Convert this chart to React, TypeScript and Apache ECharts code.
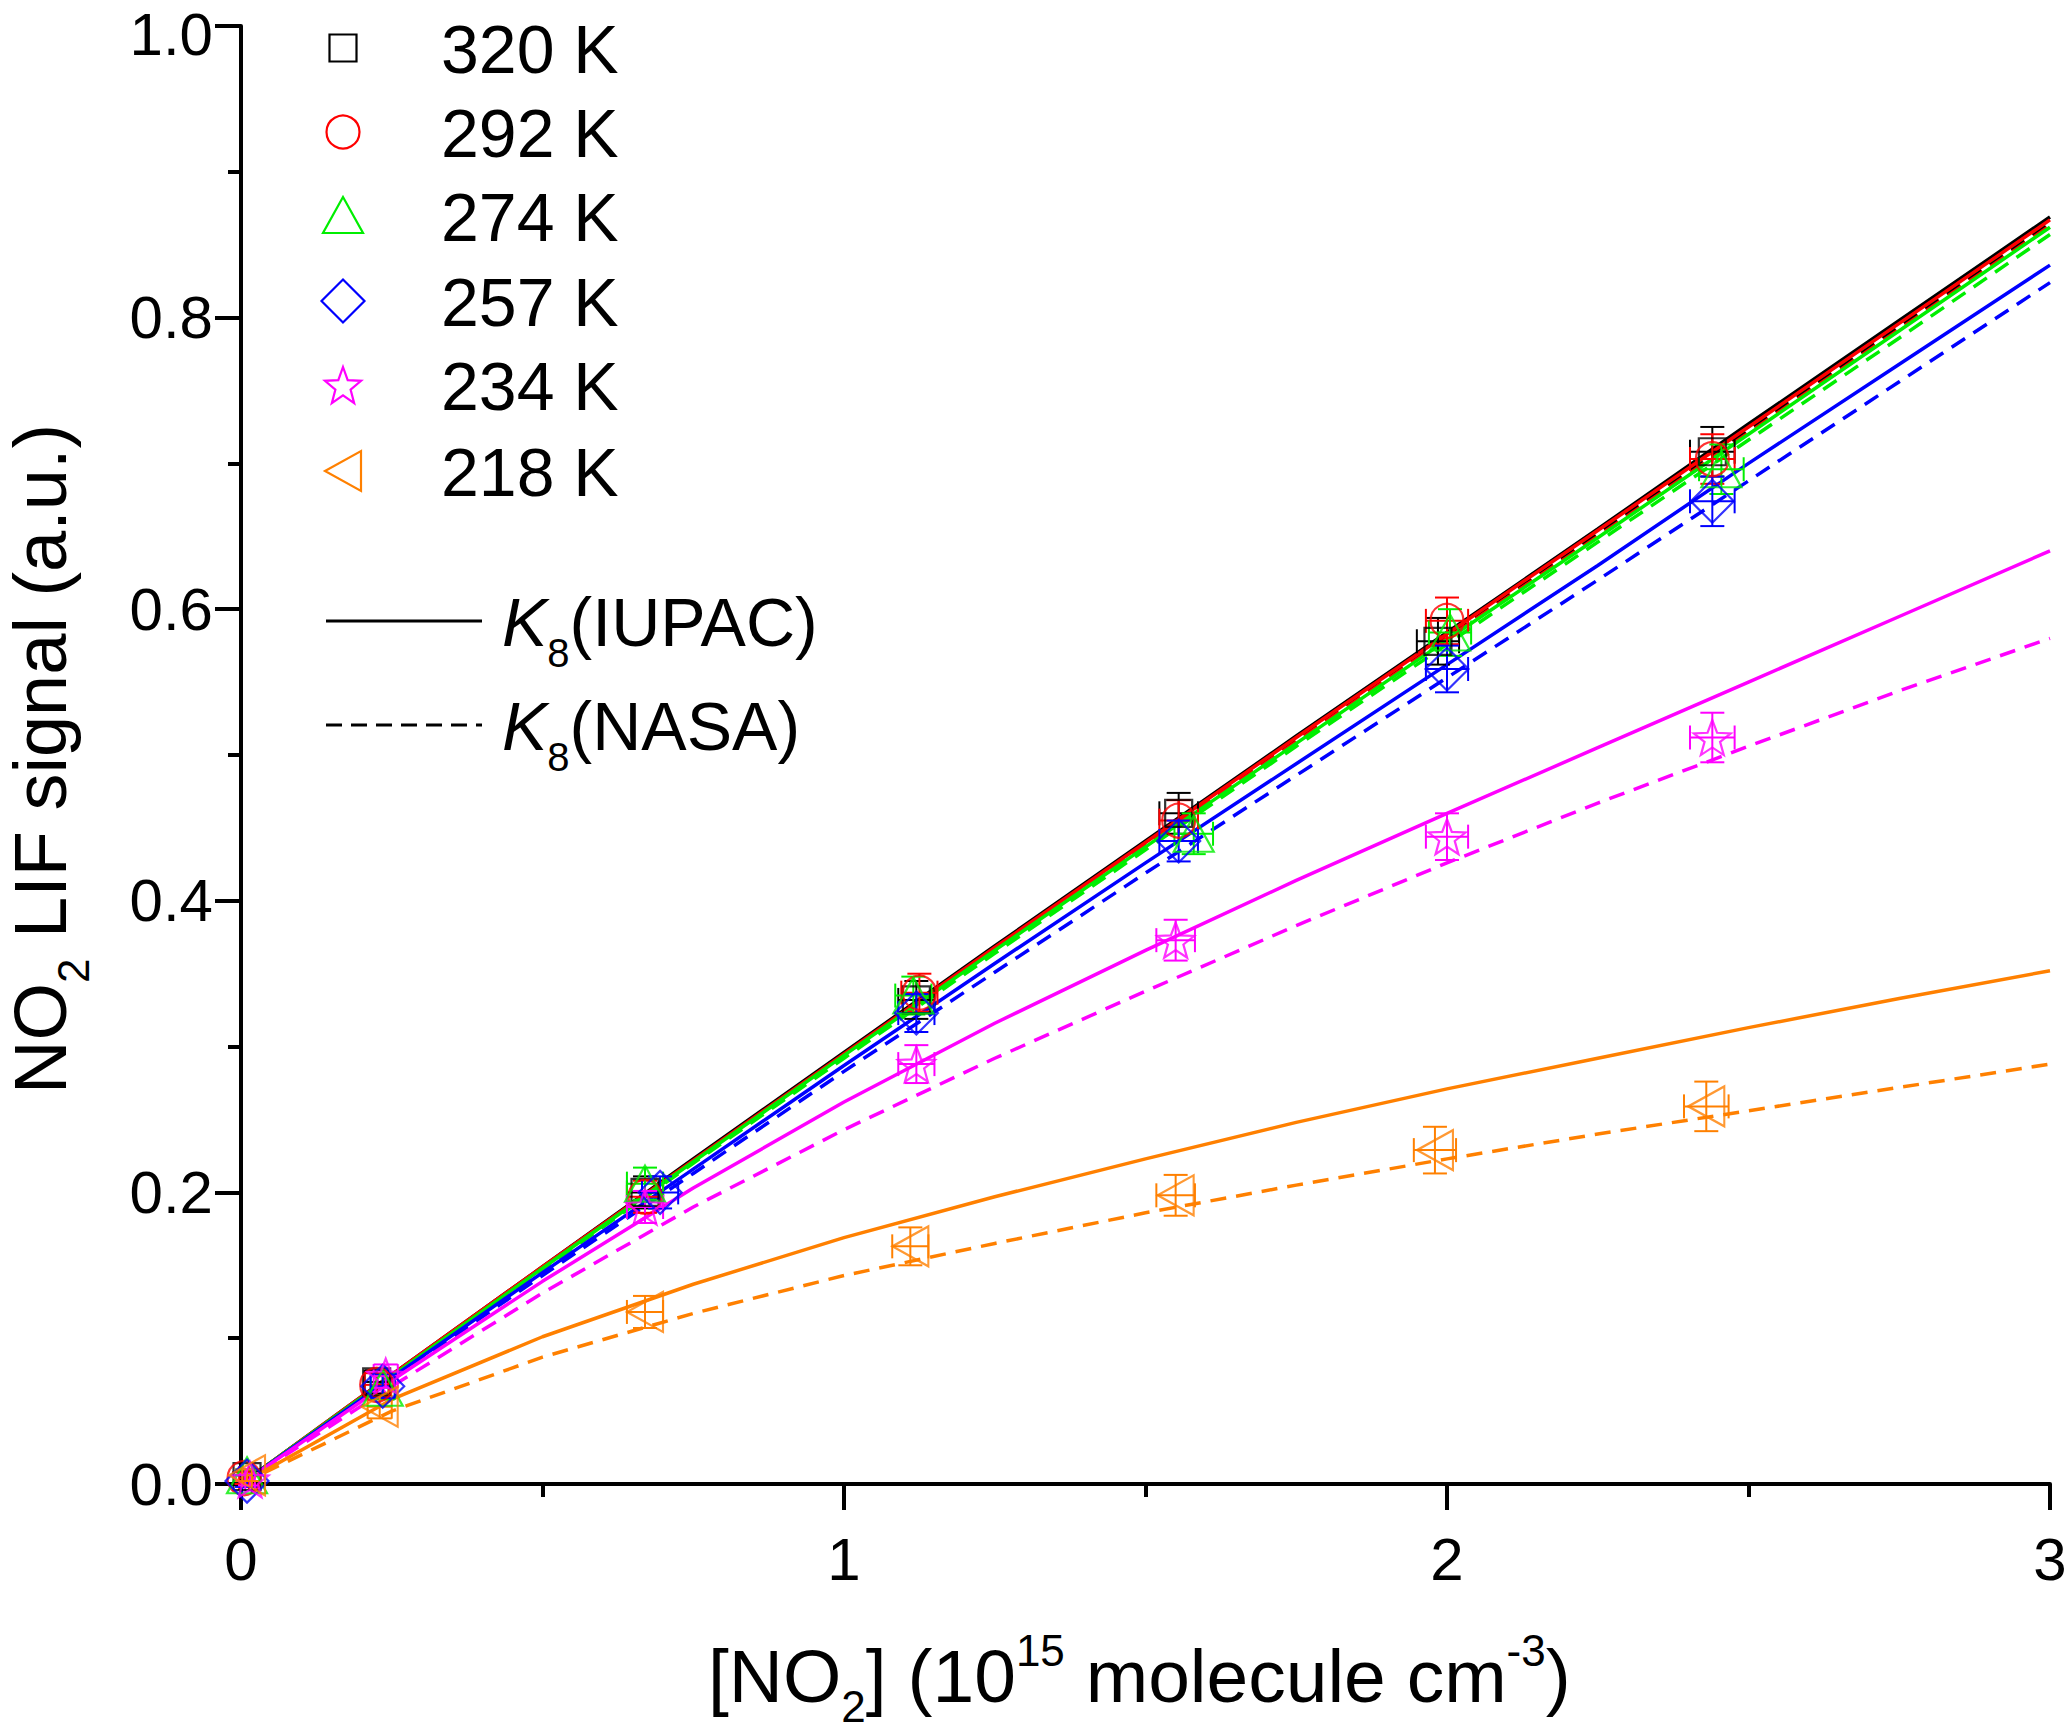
import React, { useEffect, useRef } from "react";
import * as echarts from "echarts";

const FONT = "'Liberation Sans', Arial, Helvetica, sans-serif";

// ---------- categories / legend ----------
const tempLabels = ["320 K", "292 K", "274 K", "257 K", "234 K", "218 K"];
const tempColors = ["#000000", "#ff0000", "#00ee00", "#0000ff", "#ff00ff", "#ff8000"];

// ---------- measured points ----------
const x320 = [0.01, 0.225, 0.67, 1.12, 1.555, 1.985, 2.44];
const y320 = [0.005, 0.070, 0.200, 0.332, 0.460, 0.578, 0.708];
const x292 = [0.005, 0.225, 0.67, 1.125, 1.555, 2.0, 2.44];
const y292 = [0.004, 0.068, 0.197, 0.337, 0.455, 0.592, 0.703];
const x274 = [0.01, 0.235, 0.67, 1.115, 1.58, 2.005, 2.455];
const y274 = [0.006, 0.066, 0.206, 0.335, 0.446, 0.584, 0.696];
const x257 = [0.01, 0.235, 0.695, 1.12, 1.555, 2.0, 2.44];
const y257 = [0.002, 0.067, 0.200, 0.323, 0.441, 0.559, 0.674];
const x234 = [0.015, 0.24, 0.67, 1.12, 1.55, 2.0, 2.44];
const y234 = [0.003, 0.074, 0.190, 0.288, 0.373, 0.444, 0.512];
const x218 = [0.01, 0.23, 0.67, 1.11, 1.55, 1.98, 2.43];
const y218 = [0.006, 0.053, 0.118, 0.163, 0.198, 0.229, 0.259];

// error bars (half widths)
const xErr = [0.008, 0.02, 0.03, 0.03, 0.032, 0.035, 0.037];
const yErr = [0.004, 0.008, 0.011, 0.013, 0.014, 0.016, 0.017];

// ---------- model curves ----------
const curveX = [0, 0.25, 0.5, 0.75, 1, 1.25, 1.5, 1.75, 2, 2.25, 2.5, 2.75, 3];
const iupac320 = [0, 0.075, 0.149, 0.223, 0.296, 0.369, 0.441, 0.513, 0.584, 0.655, 0.727, 0.798, 0.869];
const nasa320 = [0, 0.074, 0.148, 0.222, 0.295, 0.367, 0.439, 0.511, 0.582, 0.652, 0.723, 0.794, 0.865];
const iupac292 = [0, 0.075, 0.149, 0.222, 0.295, 0.368, 0.440, 0.512, 0.583, 0.654, 0.725, 0.796, 0.867];
const nasa292 = [0, 0.074, 0.148, 0.221, 0.294, 0.366, 0.438, 0.509, 0.580, 0.650, 0.721, 0.792, 0.863];
const iupac274 = [0, 0.074, 0.148, 0.221, 0.294, 0.366, 0.437, 0.508, 0.579, 0.649, 0.720, 0.791, 0.862];
const nasa274 = [0, 0.074, 0.147, 0.220, 0.292, 0.364, 0.435, 0.506, 0.576, 0.646, 0.716, 0.786, 0.857];
const iupac257 = [0, 0.073, 0.145, 0.216, 0.287, 0.357, 0.426, 0.494, 0.562, 0.630, 0.700, 0.768, 0.836];
const nasa257 = [0, 0.072, 0.143, 0.213, 0.283, 0.351, 0.419, 0.486, 0.553, 0.620, 0.688, 0.756, 0.824];
const iupac234 = [0, 0.071, 0.139, 0.203, 0.262, 0.316, 0.366, 0.414, 0.460, 0.505, 0.550, 0.595, 0.640];
const nasa234 = [0, 0.067, 0.131, 0.190, 0.243, 0.292, 0.338, 0.383, 0.426, 0.467, 0.506, 0.544, 0.580];
const iupac218 = [0, 0.058, 0.101, 0.137, 0.169, 0.197, 0.223, 0.248, 0.271, 0.292, 0.313, 0.333, 0.352];
const nasa218 = [0, 0.050, 0.087, 0.117, 0.143, 0.165, 0.186, 0.205, 0.223, 0.240, 0.256, 0.272, 0.288];

// ---------- ticks ----------
const xTicks = [0, 1, 2, 3];
const yTicks = [0, 0.2, 0.4, 0.6, 0.8, 1.0];

const pointsX = [x320, x292, x274, x257, x234, x218];
const pointsY = [y320, y292, y274, y257, y234, y218];
const iupacCurves = [iupac320, iupac292, iupac274, iupac257, iupac234, iupac218];
const nasaCurves = [nasa320, nasa292, nasa274, nasa257, nasa234, nasa218];

const starPath =
  "path://M0,-100 L24.7,-34 L95.1,-30.9 L39.9,13 L58.8,80.9 L0,42 L-58.8,80.9 L-39.9,13 L-95.1,-30.9 L-24.7,-34 Z";
const leftTriPath = "path://M0,50 L100,0 L100,100 Z";
const symbols = ["rect", "circle", "triangle", "diamond", starPath, leftTriPath];
const symbolSizes: any[] = [[27, 27], [33, 34], [40, 36], [43, 43], [37, 35], [36, 40]];

function measure(text: string, size: number, italic = false) {
  const c = document.createElement("canvas").getContext("2d")!;
  c.font = `${italic ? "italic " : ""}${size}px ${FONT}`;
  return c.measureText(text).width;
}

type Part = { t: string; size: number; shift: number; italic?: boolean };

function runTexts(parts: Part[], startX: number, baseline: number) {
  let x = startX;
  const out: any[] = [];
  for (const p of parts) {
    out.push({
      type: "text",
      x,
      y: baseline + p.shift - 0.3465 * p.size,
      silent: true,
      style: {
        text: p.t,
        fontSize: p.size,
        fontFamily: FONT,
        fontStyle: p.italic ? "italic" : "normal",
        fill: "#000",
        textAlign: "left",
        textVerticalAlign: "middle",
      },
    });
    x += measure(p.t, p.size, p.italic);
  }
  return out;
}

function starPoints(cx: number, cy: number, rx: number, ry: number) {
  const pts: number[][] = [];
  for (let k = 0; k < 10; k++) {
    const ang = -Math.PI / 2 + (k * Math.PI) / 5;
    const r = k % 2 === 0 ? 1 : 0.42;
    pts.push([cx + Math.cos(ang) * r * rx, cy + Math.sin(ang) * r * ry + ry * 0.1]);
  }
  return pts;
}

export default function App() {
  const ref = useRef<HTMLDivElement>(null);

  useEffect(() => {
    if (!ref.current) return;
    const chart = echarts.init(ref.current, undefined, { renderer: "svg" });

    const series: any[] = [];
    // model curves
    for (let i = 0; i < 6; i++) {
      series.push({
        name: tempLabels[i] + " NASA",
        type: "line",
        data: curveX.map((x, j) => [x, nasaCurves[i][j]]),
        showSymbol: false,
        silent: true,
        z: 2,
        lineStyle: { color: tempColors[i], width: 3.5, type: [16, 10] },
      });
      series.push({
        name: tempLabels[i] + " IUPAC",
        type: "line",
        data: curveX.map((x, j) => [x, iupacCurves[i][j]]),
        showSymbol: false,
        silent: true,
        z: 2,
        lineStyle: { color: tempColors[i], width: 3.5, type: "solid" },
      });
    }
    // error bars + points
    for (let i = 0; i < 6; i++) {
      const color = tempColors[i];
      series.push({
        name: tempLabels[i] + " err",
        type: "custom",
        silent: true,
        z: 3,
        encode: { x: 0, y: 1 },
        data: pointsX[i].map((x, j) => [x, pointsY[i][j], xErr[j], yErr[j]]),
        renderItem: (params: any, api: any) => {
          const x = api.value(0);
          const y = api.value(1);
          const xe = api.value(2);
          const ye = api.value(3);
          const c = api.coord([x, y]);
          const t = api.coord([x, y + ye]);
          const b = api.coord([x, y - ye]);
          const l = api.coord([x - xe, y]);
          const r = api.coord([x + xe, y]);
          const cap = 12;
          const st = { stroke: color, lineWidth: 2, fill: "none" };
          return {
            type: "group",
            children: [
              { type: "line", shape: { x1: c[0], y1: t[1], x2: c[0], y2: b[1] }, style: st },
              { type: "line", shape: { x1: c[0] - cap, y1: t[1], x2: c[0] + cap, y2: t[1] }, style: st },
              { type: "line", shape: { x1: c[0] - cap, y1: b[1], x2: c[0] + cap, y2: b[1] }, style: st },
              { type: "line", shape: { x1: l[0], y1: c[1], x2: r[0], y2: c[1] }, style: st },
              { type: "line", shape: { x1: l[0], y1: c[1] - cap, x2: l[0], y2: c[1] + cap }, style: st },
              { type: "line", shape: { x1: r[0], y1: c[1] - cap, x2: r[0], y2: c[1] + cap }, style: st },
            ],
          };
        },
      });
      series.push({
        name: tempLabels[i],
        type: "scatter",
        z: 4,
        silent: true,
        symbol: symbols[i],
        symbolSize: symbolSizes[i],
        data: pointsX[i].map((x, j) => [x, pointsY[i][j]]),
        itemStyle: { color: "rgba(0,0,0,0)", borderColor: color, borderWidth: 2.2 },
      });
    }

    // legend (graphic)
    const legendX = 343;
    const rows = [48, 132, 216, 301, 385, 471];
    const st = (c: string) => ({ fill: "none", stroke: c, lineWidth: 2.2 });
    const markerEls: any[] = [
      { type: "rect", shape: { x: legendX - 13.5, y: rows[0] - 13.5, width: 27, height: 27 }, style: st(tempColors[0]) },
      { type: "circle", shape: { cx: legendX, cy: rows[1], r: 16.5 }, style: st(tempColors[1]) },
      {
        type: "polygon",
        shape: { points: [[legendX, rows[2] - 19], [legendX + 20, rows[2] + 17], [legendX - 20, rows[2] + 17]] },
        style: st(tempColors[2]),
      },
      {
        type: "polygon",
        shape: { points: [[legendX, rows[3] - 21.5], [legendX + 21.5, rows[3]], [legendX, rows[3] + 21.5], [legendX - 21.5, rows[3]]] },
        style: st(tempColors[3]),
      },
      { type: "polygon", shape: { points: starPoints(legendX, rows[4], 19, 20) }, style: st(tempColors[4]) },
      {
        type: "polygon",
        shape: { points: [[legendX - 18, rows[5]], [legendX + 18, rows[5] - 20], [legendX + 18, rows[5] + 20]] },
        style: st(tempColors[5]),
      },
    ];
    const legendTexts = tempLabels.map((t, i) => ({
      type: "text",
      x: 441,
      y: rows[i] + 0.5,
      silent: true,
      style: { text: t, fontSize: 68, fontFamily: FONT, fill: "#000", textAlign: "left", textVerticalAlign: "middle" },
    }));

    const lineLegend: any[] = [
      { type: "line", shape: { x1: 326, y1: 621, x2: 482, y2: 621 }, style: { stroke: "#000", lineWidth: 3 } },
      { type: "line", shape: { x1: 326, y1: 725, x2: 482, y2: 725 }, style: { stroke: "#000", lineWidth: 3, lineDash: [16, 9] } },
      ...runTexts(
        [
          { t: "K", size: 68, shift: 0, italic: true },
          { t: "8", size: 40, shift: 21 },
          { t: "(IUPAC)", size: 68, shift: 0 },
        ],
        502,
        646
      ),
      ...runTexts(
        [
          { t: "K", size: 68, shift: 0, italic: true },
          { t: "8", size: 40, shift: 21 },
          { t: "(NASA)", size: 68, shift: 0 },
        ],
        502,
        750
      ),
    ];

    const xTitle = runTexts(
      [
        { t: "[NO", size: 75, shift: 0 },
        { t: "2", size: 44, shift: 20 },
        { t: "] (10", size: 75, shift: 0 },
        { t: "15", size: 44, shift: -36 },
        { t: " molecule cm", size: 75, shift: 0 },
        { t: "-3", size: 44, shift: -36 },
        { t: ")", size: 75, shift: 0 },
      ],
      708,
      1702
    );

    const yTitleChildren = runTexts(
      [
        { t: "NO", size: 74, shift: 0 },
        { t: "2", size: 44, shift: 23 },
        { t: " LIF signal (a.u.)", size: 74, shift: 0 },
      ],
      0,
      66
    );

    const axisCommon = {
      type: "value",
      splitLine: { show: false },
      axisLine: { show: true, onZero: false, lineStyle: { color: "#000", width: 4 } },
      axisTick: { show: true, inside: false, length: 26, lineStyle: { color: "#000", width: 4 } },
      minorTick: { show: true, splitNumber: 2, length: 13, lineStyle: { color: "#000", width: 4 } },
      minorSplitLine: { show: false },
    };

    const option: any = {
      animation: false,
      backgroundColor: "#ffffff",
      grid: { left: 241, right: 17, top: 26, bottom: 250, containLabel: false, outerBoundsMode: "none" },
      xAxis: {
        ...axisCommon,
        min: 0,
        max: 3,
        interval: 1,
        axisLabel: {
          margin: 45,
          fontSize: 60,
          fontFamily: FONT,
          color: "#000",
          formatter: (v: number) => (xTicks.includes(v) ? String(v) : ""),
        },
      },
      yAxis: {
        ...axisCommon,
        min: 0,
        max: 1,
        interval: 0.2,
        axisLabel: {
          margin: 28,
          fontSize: 60,
          fontFamily: FONT,
          color: "#000",
          rich: { top: { fontSize: 60, fontFamily: FONT, color: "#000", padding: [16, 0, 0, 0] } },
          formatter: (v: number) => {
            const t = yTicks.find((k) => Math.abs(k - v) < 1e-6);
            if (t === undefined) return "";
            return t === 1 ? "{top|" + t.toFixed(1) + "}" : t.toFixed(1);
          },
        },
      },
      graphic: [
        ...markerEls.map((e) => ({ ...e, silent: true })),
        ...legendTexts,
        ...lineLegend,
        ...xTitle,
        { type: "group", x: 0, y: 1094, rotation: Math.PI / 2, children: yTitleChildren },
      ],
      series,
    };

    chart.setOption(option);
    return () => chart.dispose();
  }, []);

  return (
    <div
      ref={ref}
      style={{ position: "fixed", left: 0, top: 0, width: 2067, height: 1734, background: "#fff" }}
    />
  );
}
